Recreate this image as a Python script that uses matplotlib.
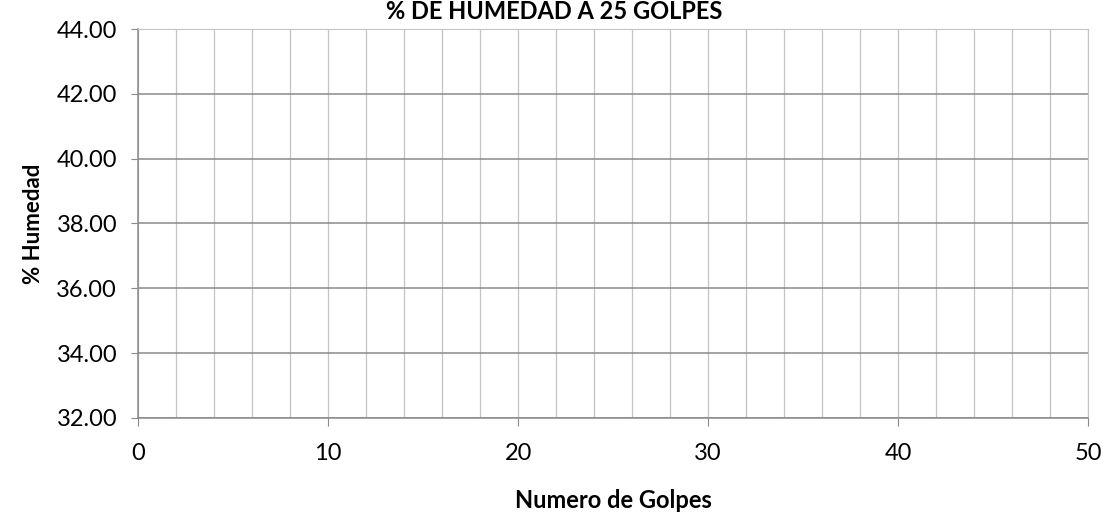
import numpy as np
import matplotlib
matplotlib.use('Agg')
from matplotlib import pyplot as plt

title = "% DE HUMEDAD A 25 GOLPES"
xlabel = "Numero de Golpes"
ylabel = "% Humedad"

x_ticks = [0, 10, 20, 30, 40, 50]
x_grid = list(range(0, 51, 2))
y_ticks = [32, 34, 36, 38, 40, 42, 44]

# the sheet is blank: no points were recorded
golpes = []
humedad = []

plt.rcParams['font.family'] = ['Lato', 'DejaVu Sans']

fig = plt.figure(figsize=(11.09, 5.12), dpi=100)
ax = fig.add_axes([0.1244, 0.184, 0.857, 0.759])

ax.plot(golpes, humedad, marker='o', linestyle='-')

ax.set_xlim(0, 50)
ax.set_ylim(32, 44)
ax.set_xticks(x_ticks)
ax.set_xticks(x_grid, minor=True)
ax.set_yticks(y_ticks)
ax.set_yticklabels([f"{v:.2f}" for v in y_ticks])

ax.grid(which='minor', axis='x', color='#c4c4c4', linewidth=0.9)
ax.grid(which='major', axis='x', color='#c4c4c4', linewidth=0.9)
ax.grid(which='major', axis='y', color='#8a8a8a', linewidth=1.1)
ax.set_axisbelow(True)

for side in ['top', 'right']:
    ax.spines[side].set_color('#c4c4c4')
for side in ['left', 'bottom']:
    ax.spines[side].set_color('#8a8a8a')
    ax.spines[side].set_linewidth(1.1)

ax.tick_params(axis='x', which='major', length=6, color='#8a8a8a', pad=12, labelsize=17)
ax.tick_params(axis='x', which='minor', length=0)
ax.tick_params(axis='y', length=5, color='#8a8a8a', pad=10, labelsize=17)

ax.set_xlabel(xlabel, fontsize=17, fontweight='bold', labelpad=18)
ax.set_ylabel(ylabel, fontsize=16, fontweight='bold', labelpad=9)
fig.text(0.5, 1.0, title, ha='center', va='top', fontsize=17, fontweight='bold')

plt.savefig("out.png", dpi=100)
